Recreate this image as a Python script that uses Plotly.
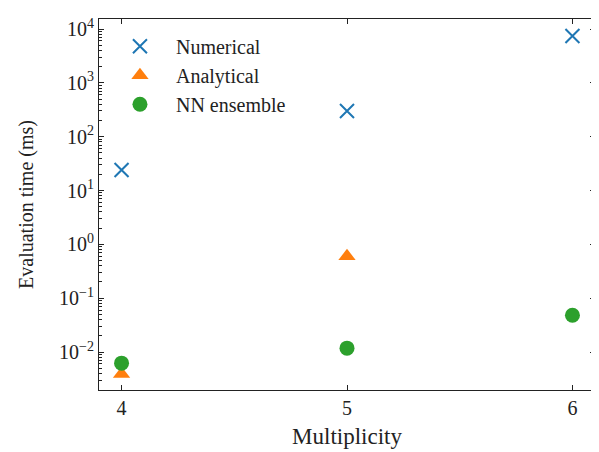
import plotly.graph_objects as go

multiplicity = [4, 5, 6]
numerical = [24, 300, 7400]
analytical_x = [4, 5]
analytical = [0.0039, 0.6]
nn_ensemble = [0.0062, 0.0118, 0.048]

x_tickvals = [4, 5, 6]
y_tickvals = [0.01, 0.1, 1, 10, 100, 1000, 10000]
y_ticktext = ["10<sup>−2</sup>", "10<sup>−1</sup>", "10<sup>0</sup>", "10<sup>1</sup>",
              "10<sup>2</sup>", "10<sup>3</sup>", "10<sup>4</sup>"]
decades = [-3, -2, -1, 0, 1, 2, 3, 4]
minor_multiples = [2, 3, 4, 5, 6, 7, 8, 9]
y_minor_vals = [m * 10.0 ** d for d in decades for m in minor_multiples]

FONT = "Liberation Serif, DejaVu Serif, serif"
Y_RANGE = [-2.706, 4.186]

fig = go.Figure()
fig.add_trace(go.Scatter(x=multiplicity, y=numerical, mode="markers", name="Numerical",
                         marker=dict(symbol="x-thin", size=14, color="#1f77b4",
                                     line=dict(width=2, color="#1f77b4"))))
fig.add_trace(go.Scatter(x=analytical_x, y=analytical, mode="markers", name="Analytical",
                         marker=dict(symbol="triangle-up", size=15, color="#ff7f0e")))
fig.add_trace(go.Scatter(x=multiplicity, y=nn_ensemble, mode="markers", name="NN ensemble",
                         marker=dict(symbol="circle", size=15, color="#2ca02c")))
# transparent carrier so the minor-tick overlay axis gets drawn
fig.add_trace(go.Scatter(x=multiplicity[:1], y=numerical[:1], yaxis="y2", mode="markers",
                         marker=dict(opacity=0), showlegend=False, hoverinfo="skip"))

axis_common = dict(showline=True, linecolor="#222", linewidth=1.2, mirror="ticks",
                   ticks="inside", ticklen=5, tickwidth=1.2, tickcolor="#222",
                   showgrid=False, zeroline=False, automargin=False,
                   tickfont=dict(family=FONT, size=20, color="#222"))

fig.update_layout(
    width=591, height=444,
    margin=dict(l=91, r=4, t=11, b=62),
    paper_bgcolor="white", plot_bgcolor="white",
    font=dict(family=FONT, size=20, color="#222"),
    showlegend=True,
    legend=dict(x=0.01, y=0.979, xanchor="left", yanchor="top", itemwidth=62,
                bgcolor="rgba(0,0,0,0)", font=dict(family=FONT, size=20, color="#222"),
                itemsizing="trace", tracegroupgap=0),
    xaxis=dict(range=[3.9, 6.1], tickmode="array", tickvals=x_tickvals,
               ticktext=[str(v) for v in x_tickvals],
               title=dict(text="Multiplicity", font=dict(family=FONT, size=23), standoff=9),
               **axis_common),
    yaxis=dict(type="log", range=Y_RANGE, tickmode="array", tickvals=y_tickvals,
               ticktext=y_ticktext,
               title=dict(text="Evaluation time (ms)", font=dict(family=FONT, size=20), standoff=19),
               **axis_common),
    yaxis2=dict(type="log", range=Y_RANGE, overlaying="y", anchor="x", side="left",
                tickmode="array", tickvals=y_minor_vals, ticks="inside", ticklen=3,
                tickwidth=1.2, tickcolor="#222", mirror="ticks", showline=True,
                linecolor="#222", linewidth=1.2, showticklabels=False,
                showgrid=False, zeroline=False, automargin=False),
)

fig.write_html("out.html")
